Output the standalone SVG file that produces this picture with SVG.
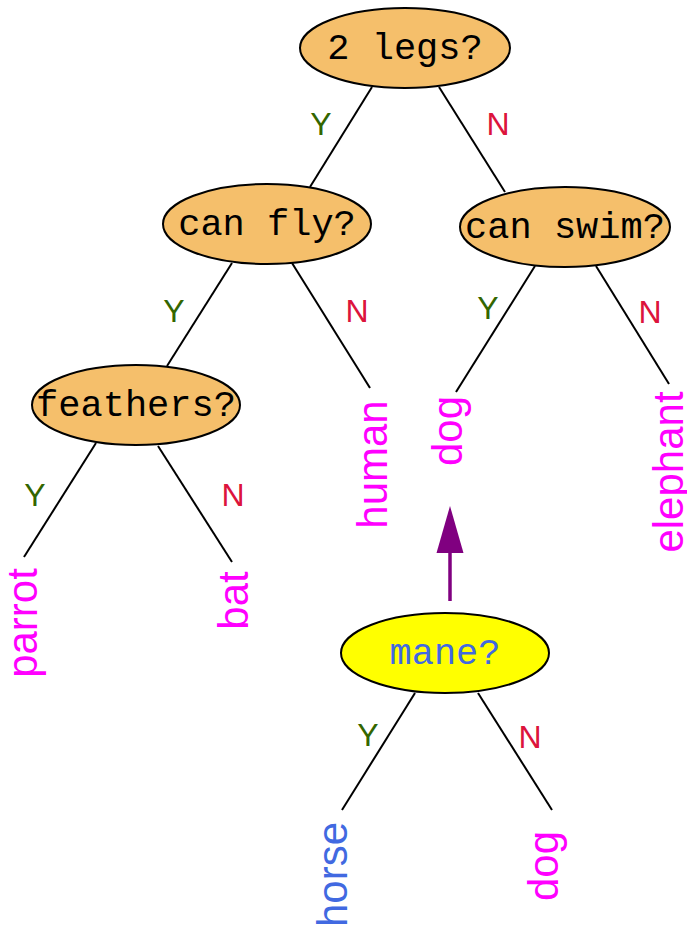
<svg xmlns="http://www.w3.org/2000/svg" width="687" height="925" viewBox="0 0 687 925">
<style>
.q ellipse{fill:#f5bf6b;stroke:#000;stroke-width:2}
.q text{font-family:"Liberation Mono","Courier New",monospace;font-size:37px;text-anchor:middle;fill:#000}
.leaf text{font-family:"Liberation Sans",Arial,sans-serif;font-size:42px;text-anchor:middle;fill:#ff00ff}
.edges line{stroke:#000;stroke-width:2}
.lbl{font-family:"Liberation Sans",Arial,sans-serif;font-size:32px;text-anchor:middle}
.y{fill:#336600}
.n{fill:#dc143c}
</style>
<g id="n_2legs" class="q"><ellipse cx="405" cy="48" rx="105" ry="40"/><text x="405" y="58.5">2 legs?</text></g>
<g id="n_canfly" class="q"><ellipse cx="267" cy="224" rx="104" ry="40"/><text x="267" y="234.5">can fly?</text></g>
<g id="n_canswim" class="q"><ellipse cx="565" cy="227" rx="105" ry="40"/><text x="565" y="237.5">can swim?</text></g>
<g id="n_feathers" class="q"><ellipse cx="136" cy="405" rx="104" ry="40"/><text x="136" y="415.5">feathers?</text></g>
<g id="n_mane" class="q"><ellipse cx="445" cy="653" rx="104" ry="40" style="fill:#ffff00"/><text x="445" y="663.5" style="fill:#4169e1">mane?</text></g>
<g id="l_parrot" class="leaf"><text transform="translate(37,623) rotate(-90)">parrot</text></g>
<g id="l_bat" class="leaf"><text transform="translate(248,600.5) rotate(-90)">bat</text></g>
<g id="l_human" class="leaf"><text transform="translate(387,464.5) rotate(-90)">human</text></g>
<g id="l_dog1" class="leaf"><text transform="translate(462,431) rotate(-90)">dog</text></g>
<g id="l_elephant" class="leaf"><text transform="translate(683,472) rotate(-90)">elephant</text></g>
<g id="l_horse" class="leaf"><text transform="translate(347,874.5) rotate(-90)" style="fill:#4169e1">horse</text></g>
<g id="l_dog2" class="leaf"><text transform="translate(558,866) rotate(-90)">dog</text></g>
<g id="edges" class="edges">
<line x1="372" y1="87" x2="310" y2="187"/>
<line x1="439" y1="87" x2="505" y2="192"/>
<line x1="232" y1="263" x2="167" y2="366"/>
<line x1="292" y1="263" x2="370" y2="388"/>
<line x1="535" y1="266" x2="456" y2="392"/>
<line x1="596" y1="266" x2="669" y2="384"/>
<line x1="96" y1="443" x2="24" y2="557"/>
<line x1="158" y1="446" x2="232" y2="562"/>
<line x1="415" y1="693" x2="342" y2="810"/>
<line x1="478" y1="693" x2="552" y2="810"/>
<line x1="450" y1="601" x2="450" y2="550" style="stroke:#800080;stroke-width:3.5"/>
<polygon points="450,506 436.5,553 463.5,553" fill="#800080"/>
<text class="lbl y" x="321" y="135">Y</text>
<text class="lbl n" x="498" y="135">N</text>
<text class="lbl y" x="174" y="322">Y</text>
<text class="lbl n" x="357" y="322">N</text>
<text class="lbl y" x="488" y="319">Y</text>
<text class="lbl n" x="650" y="323">N</text>
<text class="lbl y" x="35" y="506">Y</text>
<text class="lbl n" x="233" y="506">N</text>
<text class="lbl y" x="368" y="746">Y</text>
<text class="lbl n" x="530" y="748">N</text>
</g>
</svg>
